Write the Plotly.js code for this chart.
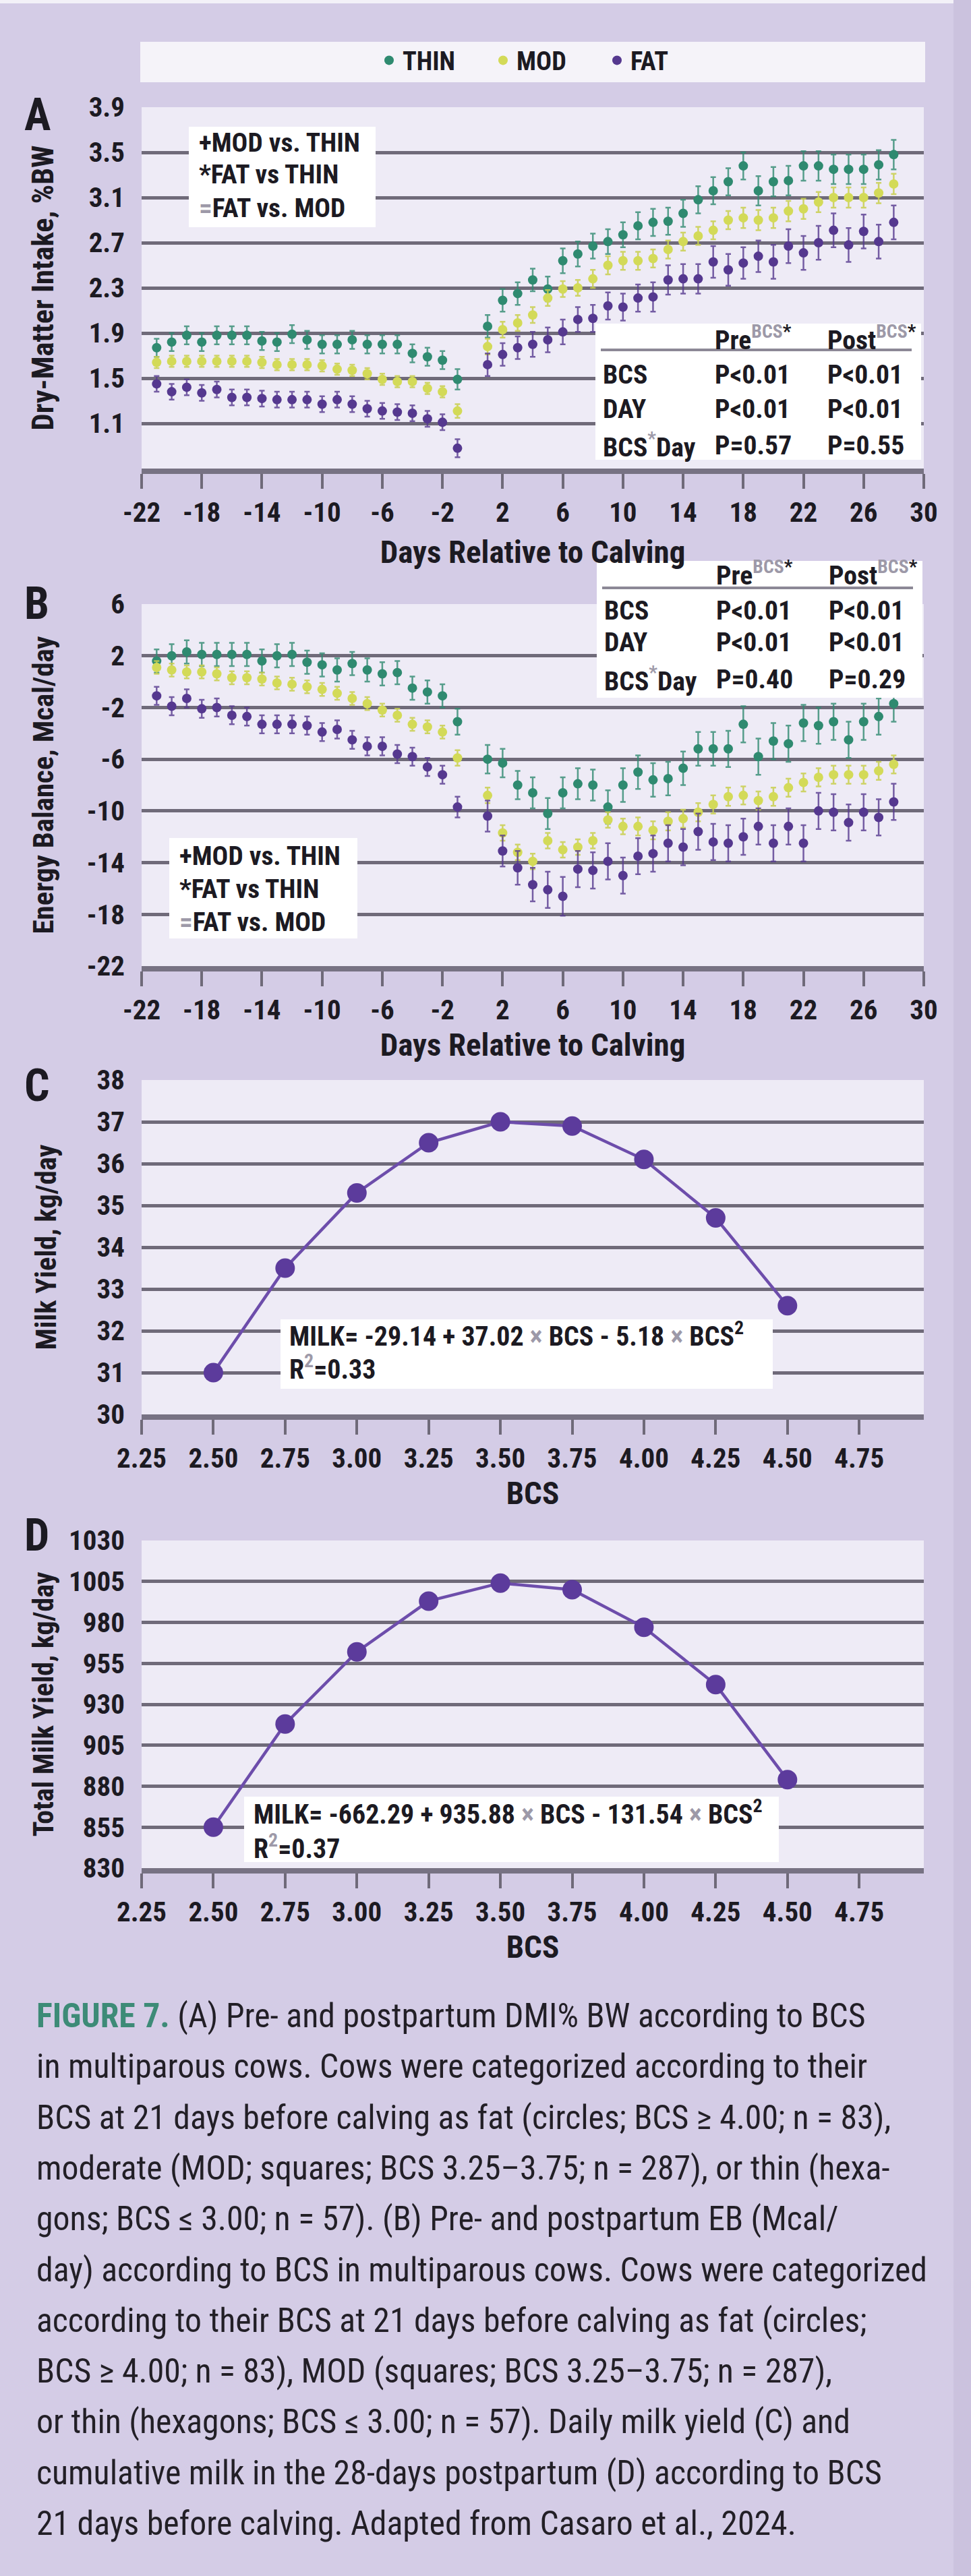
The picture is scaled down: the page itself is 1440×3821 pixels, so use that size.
<!DOCTYPE html>
<html>
<head>
<meta charset="utf-8">
<script src="https://cdn.plot.ly/plotly-3.0.1.min.js"></script>
<style>
  html, body { margin: 0; padding: 0; background: #d4cce6; }
  #fig { width: 1440px; height: 3821px; }
</style>
</head>
<body>
<div id="fig"></div>
<script>
// ---- Days relative to calving (day 0 not sampled) ----
const DAYS = [-21,-20,-19,-18,-17,-16,-15,-14,-13,-12,-11,-10,-9,-8,-7,-6,-5,-4,-3,-2,-1,
              1,2,3,4,5,6,7,8,9,10,11,12,13,14,15,16,17,18,19,20,21,22,23,24,25,26,27,28];

// ---- (A) Dry-matter intake, %BW ----
const DMI_THIN = [1.77,1.82,1.88,1.82,1.88,1.88,1.88,1.83,1.82,1.89,1.84,1.80,1.80,1.84,1.80,1.80,1.80,1.72,1.69,1.66,1.49,
                  1.96,2.19,2.25,2.37,2.29,2.54,2.60,2.67,2.71,2.77,2.85,2.88,2.89,2.96,3.08,3.16,3.24,3.38,3.16,3.24,3.25,3.38,3.38,3.35,3.35,3.35,3.39,3.48];
const DMI_MOD  = [1.64,1.65,1.65,1.65,1.65,1.65,1.65,1.64,1.62,1.62,1.62,1.61,1.58,1.57,1.54,1.49,1.47,1.47,1.41,1.38,1.21,
                  1.78,1.93,1.99,2.06,2.21,2.29,2.30,2.38,2.50,2.54,2.54,2.56,2.64,2.71,2.76,2.81,2.90,2.92,2.90,2.92,2.98,3.00,3.06,3.10,3.10,3.10,3.14,3.22];
const DMI_FAT  = [1.45,1.38,1.42,1.37,1.40,1.33,1.33,1.32,1.31,1.31,1.31,1.27,1.31,1.27,1.23,1.21,1.20,1.19,1.14,1.11,0.88,
                  1.62,1.71,1.77,1.80,1.84,1.91,2.02,2.03,2.14,2.13,2.21,2.22,2.37,2.38,2.38,2.53,2.46,2.52,2.58,2.53,2.67,2.61,2.70,2.81,2.68,2.80,2.71,2.88];
const DMI_SE_THIN = [0.08,0.08,0.08,0.08,0.08,0.08,0.08,0.08,0.08,0.08,0.08,0.08,0.08,0.08,0.08,0.08,0.08,0.08,0.08,0.08,0.09,
                     0.10,0.10,0.10,0.10,0.11,0.11,0.11,0.11,0.11,0.11,0.12,0.12,0.12,0.12,0.12,0.12,0.12,0.12,0.13,0.13,0.13,0.13,0.13,0.13,0.13,0.13,0.13,0.13];
const DMI_SE_MOD  = [0.05,0.05,0.05,0.05,0.05,0.05,0.05,0.05,0.05,0.05,0.05,0.05,0.05,0.05,0.05,0.05,0.05,0.05,0.05,0.05,0.06,
                     0.07,0.07,0.07,0.07,0.07,0.07,0.07,0.08,0.08,0.08,0.08,0.08,0.08,0.08,0.08,0.08,0.08,0.09,0.09,0.09,0.09,0.09,0.09,0.09,0.09,0.09,0.09,0.09];
const DMI_SE_FAT  = [0.07,0.07,0.07,0.07,0.07,0.07,0.07,0.07,0.07,0.07,0.07,0.07,0.07,0.07,0.07,0.07,0.07,0.07,0.07,0.07,0.08,
                     0.10,0.10,0.10,0.11,0.11,0.11,0.11,0.12,0.12,0.12,0.12,0.13,0.13,0.13,0.13,0.14,0.14,0.14,0.14,0.15,0.15,0.15,0.15,0.15,0.15,0.15,0.15,0.15];

// ---- (B) Energy balance, Mcal/day ----
const EB_THIN = [1.6,2.0,2.3,2.1,2.1,2.1,2.1,1.6,2.0,2.1,1.5,1.3,0.9,1.4,0.9,0.6,0.7,-0.5,-0.8,-1.1,-3.1,
                 -6.0,-6.3,-8.0,-8.6,-10.2,-8.6,-7.9,-8.0,-9.7,-8.0,-7.0,-7.6,-7.5,-6.7,-5.2,-5.2,-5.2,-3.3,-5.8,-4.6,-4.8,-3.2,-3.4,-3.1,-4.5,-3.1,-2.7,-1.7];
const EB_MOD  = [1.1,0.9,0.75,0.75,0.6,0.3,0.3,0.2,-0.1,-0.2,-0.4,-0.6,-0.9,-1.3,-1.7,-2.2,-2.6,-3.3,-3.5,-3.9,-5.9,
                 -8.8,-11.7,-13.2,-13.9,-12.3,-13.0,-12.8,-12.3,-10.7,-11.2,-11.2,-11.5,-10.8,-10.6,-10.1,-9.5,-8.9,-8.8,-9.2,-8.9,-8.2,-7.8,-7.4,-7.2,-7.2,-7.2,-6.9,-6.4];
const EB_FAT  = [-1.1,-1.9,-1.3,-2.1,-2.0,-2.6,-2.7,-3.3,-3.3,-3.3,-3.4,-3.9,-3.7,-4.5,-5.0,-5.0,-5.6,-5.8,-6.6,-7.2,-9.7,
                 -10.4,-13.1,-14.4,-15.7,-16.1,-16.6,-14.5,-14.6,-13.9,-15.0,-13.5,-13.3,-12.5,-12.8,-11.6,-12.4,-12.5,-12.0,-11.2,-12.5,-11.2,-12.5,-10.0,-10.1,-10.9,-10.1,-10.5,-9.3];
const EB_SE_THIN = [0.9,0.9,0.9,0.9,0.9,0.9,0.9,0.9,0.9,0.9,0.9,0.9,0.9,0.9,0.9,0.9,0.9,0.9,0.9,0.9,1.0,
                    1.1,1.1,1.1,1.2,1.2,1.2,1.2,1.2,1.3,1.3,1.3,1.3,1.3,1.3,1.3,1.3,1.4,1.4,1.4,1.4,1.4,1.4,1.4,1.4,1.4,1.4,1.4,1.4];
const EB_SE_MOD  = [0.5,0.5,0.5,0.5,0.5,0.5,0.5,0.5,0.5,0.5,0.5,0.5,0.5,0.5,0.5,0.5,0.5,0.5,0.5,0.5,0.6,
                    0.6,0.6,0.6,0.6,0.6,0.6,0.6,0.6,0.6,0.6,0.7,0.7,0.7,0.7,0.7,0.7,0.7,0.7,0.7,0.7,0.7,0.7,0.7,0.7,0.7,0.7,0.7,0.7];
const EB_SE_FAT  = [0.7,0.7,0.7,0.7,0.7,0.7,0.7,0.7,0.7,0.7,0.7,0.7,0.7,0.7,0.7,0.7,0.7,0.7,0.7,0.7,0.8,
                    1.2,1.2,1.3,1.3,1.4,1.5,1.4,1.4,1.4,1.4,1.4,1.4,1.4,1.4,1.4,1.4,1.4,1.4,1.4,1.4,1.4,1.4,1.4,1.4,1.4,1.4,1.4,1.4];

// ---- (C, D) Milk yield by BCS ----
const BCS = [2.50, 2.75, 3.00, 3.25, 3.50, 3.75, 4.00, 4.25, 4.50];
const MILK_DAILY = [31.0, 33.5, 35.3, 36.5, 37.0, 36.9, 36.1, 34.7, 32.6];
const MILK_TOTAL = [855, 918, 962, 993, 1004, 1000, 977, 942, 884];

// ---- Tick values / labels ----
const DAY_TICKS = [-22,-18,-14,-10,-6,-2,2,6,10,14,18,22,26,30];
const DAY_TICK_TEXT = ['-22','-18','-14','-10','-6','-2','2','6','10','14','18','22','26','30'];
const DMI_TICKS = [1.1,1.5,1.9,2.3,2.7,3.1,3.5,3.9];
const DMI_TICK_TEXT = ['1.1','1.5','1.9','2.3','2.7','3.1','3.5','3.9'];
const EB_TICKS = [-22,-18,-14,-10,-6,-2,2,6];
const EB_TICK_TEXT = ['-22','-18','-14','-10','-6','-2','2','6'];
const BCS_TICKS = [2.25,2.50,2.75,3.00,3.25,3.50,3.75,4.00,4.25,4.50,4.75];
const BCS_TICK_TEXT = ['2.25','2.50','2.75','3.00','3.25','3.50','3.75','4.00','4.25','4.50','4.75'];
const DAILY_TICKS = [30,31,32,33,34,35,36,37,38];
const DAILY_TICK_TEXT = ['30','31','32','33','34','35','36','37','38'];
const TOTAL_TICKS = [830,855,880,905,930,955,980,1005,1030];
const TOTAL_TICK_TEXT = ['830','855','880','905','930','955','980','1005','1030'];

const GROUPS = ['THIN', 'MOD', 'FAT'];

const CAPTION = [
  '<b><span style="color:#3d8b77">FIGURE 7.</span></b> (A) Pre- and postpartum DMI% BW according to BCS',
  'in multiparous cows. Cows were categorized according to their',
  'BCS at 21 days before calving as fat (circles; BCS \u2265 4.00; n = 83),',
  'moderate (MOD; squares; BCS 3.25\u20133.75; n = 287), or thin (hexa-',
  'gons; BCS \u2264 3.00; n = 57). (B) Pre- and postpartum EB (Mcal/',
  'day) according to BCS in multiparous cows. Cows were categorized',
  'according to their BCS at 21 days before calving as fat (circles;',
  'BCS \u2265 4.00; n = 83), MOD (squares; BCS 3.25\u20133.75; n = 287),',
  'or thin (hexagons; BCS \u2264 3.00; n = 57). Daily milk yield (C) and',
  'cumulative milk in the 28-days postpartum (D) according to BCS',
  '21 days before calving. Adapted from Casaro et al., 2024.'
];

// ---- Styling ----
const W = 1440, H = 3821;
const PX = x => x / W;
const PY = y => 1 - y / H;

const COND = '"Roboto Condensed", "Liberation Sans Narrow", "Liberation Sans", Arial, sans-serif';
const INK = '#1c1a22';
const GRID = '#6f6a79';
const AXIS = '#777283';
const PAGE = '#d4cce6';
const PLOTBG = '#eeebf6';
const COLORS = { THIN: '#2f8a70', MOD: '#d3da58', FAT: '#55388f' };
const ERRCOL = { THIN: 'rgba(47,138,112,0.8)', MOD: 'rgba(200,207,78,0.85)', FAT: 'rgba(85,56,143,0.8)' };
const LINE_PURPLE = '#6d4dab';
const DOT_PURPLE = '#5c3b9c';
const GRAY_MARK = '#9d99a8';

// text measuring, used to size labels to their column widths
const measureCtx = document.createElement('canvas').getContext('2d');
function textWidth(str, family, size, bold) {
  measureCtx.font = (bold ? 'bold ' : '') + size + 'px ' + family;
  return measureCtx.measureText(str.replace(/<[^>]+>/g, '').replace(/&lt;/g, '<')).width;
}
function fitSize(str, family, bold, target, lo, hi) {
  const s = 100 * target / textWidth(str, family, 100, bold);
  return Math.max(lo, Math.min(hi, Math.round(s * 10) / 10));
}

const tickSize = fitSize('2.25', COND, true, 74, 30, 50);
const tickFont = { family: COND, size: tickSize, color: INK, weight: 'bold' };
const xTitleSize = fitSize('Days Relative to Calving', COND, true, 453, 30, 50);
const xTitleFont = { family: COND, size: xTitleSize, color: INK, weight: 'bold' };

const XL = PX(210), XR = PX(1370);
const YLABEL_RIGHT = 186;   // right edge of y tick labels (px)
const DOM = {
  A: [PY(695), PY(159)],
  B: [PY(1433), PY(896)],
  C: [PY(2098), PY(1602)],
  D: [PY(2771), PY(2285)]
};

function xAxis(anchor, range, tickvals, ticktext, title, standoff) {
  return {
    domain: [XL, XR], anchor: anchor, range: range,
    tickmode: 'array', tickvals: tickvals, ticktext: ticktext,
    ticks: 'outside', ticklen: 22, tickwidth: 4, tickcolor: GRID,
    showline: true, linecolor: AXIS, linewidth: 8,
    showgrid: false, zeroline: false, tickfont: tickFont,
    ticklabelstandoff: 0,
    title: { text: title, font: xTitleFont, standoff: standoff },
    fixedrange: true
  };
}
// y title sized to its printed length and placed so its centre sits at `center` px
function yAxis(anchor, domain, range, tickvals, ticktext, title, titleLen, center) {
  const size = fitSize(title, COND, true, titleLen, 28, 50);
  const widest = Math.max.apply(null, ticktext.map(t => textWidth(t, COND, tickSize, true)));
  const standoff = Math.max(0, Math.round(YLABEL_RIGHT - widest - center - 0.58 * size));
  return {
    domain: domain, anchor: anchor, range: range,
    tickmode: 'array', tickvals: tickvals, ticktext: ticktext,
    ticks: '', showline: false, zeroline: false,
    showgrid: true, gridcolor: GRID, gridwidth: 5,
    tickfont: tickFont, ticklabelstandoff: 210 - YLABEL_RIGHT,
    title: { text: title, font: { family: COND, size: size, color: INK, weight: 'bold' }, standoff: standoff },
    fixedrange: true
  };
}

// ---- Traces ----
const traces = [];
const dmiSeries = { THIN: [DMI_THIN, DMI_SE_THIN], MOD: [DMI_MOD, DMI_SE_MOD], FAT: [DMI_FAT, DMI_SE_FAT] };
const ebSeries  = { THIN: [EB_THIN, EB_SE_THIN],  MOD: [EB_MOD, EB_SE_MOD],  FAT: [EB_FAT, EB_SE_FAT] };

function groupTrace(g, ys, se, xa, ya, inLegend) {
  return {
    type: 'scatter', mode: 'markers', name: g, legendgroup: g, showlegend: inLegend,
    x: DAYS, y: ys, xaxis: xa, yaxis: ya,
    marker: { color: COLORS[g], size: 14, symbol: 'circle' },
    error_y: { type: 'data', array: se, visible: true, color: ERRCOL[g], thickness: 2.5, width: 4 },
    hoverinfo: 'x+y+name'
  };
}
GROUPS.forEach(g => traces.push(groupTrace(g, dmiSeries[g][0], dmiSeries[g][1], 'x', 'y', true)));
GROUPS.forEach(g => traces.push(groupTrace(g, ebSeries[g][0], ebSeries[g][1], 'x2', 'y2', false)));

traces.push({
  type: 'scatter', mode: 'lines+markers', name: 'Milk yield', showlegend: false,
  x: BCS, y: MILK_DAILY, xaxis: 'x3', yaxis: 'y3',
  line: { color: LINE_PURPLE, width: 4.5 },
  marker: { color: DOT_PURPLE, size: 29 }
});
traces.push({
  type: 'scatter', mode: 'lines+markers', name: 'Total milk yield', showlegend: false,
  x: BCS, y: MILK_TOTAL, xaxis: 'x4', yaxis: 'y4',
  line: { color: LINE_PURPLE, width: 4.5 },
  marker: { color: DOT_PURPLE, size: 29 }
});

// ---- Boxes, rules and labels ----
const shapes = [];
const annotations = [];

function rect(x0, y0, x1, y1, fill, layer) {
  shapes.push({ type: 'rect', xref: 'paper', yref: 'paper', x0: PX(x0), x1: PX(x1), y0: PY(y1), y1: PY(y0),
                fillcolor: fill, line: { width: 0 }, layer: layer || 'above' });
}
function hline(x0, x1, y, color, width) {
  shapes.push({ type: 'line', xref: 'paper', yref: 'paper', x0: PX(x0), x1: PX(x1), y0: PY(y), y1: PY(y),
                line: { color: color, width: width }, layer: 'above' });
}
function text(t, x, y, font, xanchor) {
  annotations.push({ xref: 'paper', yref: 'paper', x: PX(x), y: PY(y), text: t, showarrow: false,
                     xanchor: xanchor || 'left', yanchor: 'middle', font: font });
}

// page trims
rect(0, 0, 1440, 5, '#f3f1f8', 'below');
rect(1414, 0, 1440, 3821, '#cbc2de', 'below');
// legend band
rect(208, 62, 1372, 122, '#f5f3f9', 'below');

// panel letters
const letterFont = { family: COND, size: 66, color: INK, weight: 'bold' };
text('A', 34, 170, letterFont);
text('B', 34, 895, letterFont);
text('C', 34, 1610, letterFont);
text('D', 34, 2277, letterFont);

// contrast keys
const gray = s => '<span style="color:' + GRAY_MARK + '">' + s + '</span>';
const keyFont = { family: COND, size: fitSize('+MOD vs. THIN', COND, true, 240, 26, 44), color: INK, weight: 'bold' };
rect(280, 188, 557, 337, '#ffffff');
text('+MOD vs. THIN', 293, 211, keyFont);
text('*FAT vs THIN', 293, 258, keyFont);
text(gray('=') + 'FAT vs. MOD', 293, 308, keyFont);

rect(251, 1243, 530, 1392, '#ffffff');
text('+MOD vs. THIN', 264, 1269, keyFont);
text('*FAT vs THIN', 264, 1318, keyFont);
text(gray('=') + 'FAT vs. MOD', 264, 1367, keyFont);

// P-value tables
const tblFont = { family: COND, size: fitSize('P<0.01', COND, true, 112, 26, 44), color: INK, weight: 'bold' };
const hdrPre = 'Pre<sup>' + gray('BCS') + '*</sup>';
const hdrPost = 'Post<sup>' + gray('BCS') + '*</sup>';
const bcsDay = 'BCS<sup>' + gray('*') + '</sup>Day';
function pTable(x0, y0, x1, y1, rows, rowY, hdrY, ruleY, cols) {
  rect(x0, y0, x1, y1, '#ffffff');
  hline(x0 + 8, x1 - 14, ruleY, '#8c8896', 4);
  text(hdrPre, cols[1], hdrY, tblFont);
  text(hdrPost, cols[2], hdrY, tblFont);
  rows.forEach((r, i) => {
    text(r[0], cols[0], rowY[i], tblFont);
    text(r[1], cols[1], rowY[i], tblFont);
    text(r[2], cols[2], rowY[i], tblFont);
  });
}
const P_A = [['BCS', 'P&lt;0.01', 'P&lt;0.01'], ['DAY', 'P&lt;0.01', 'P&lt;0.01'], [bcsDay, 'P=0.57', 'P=0.55']];
const P_B = [['BCS', 'P&lt;0.01', 'P&lt;0.01'], ['DAY', 'P&lt;0.01', 'P&lt;0.01'], [bcsDay, 'P=0.40', 'P=0.29']];
pTable(883, 480, 1366, 682, P_A, [555, 607, 660], 502, 519, [892, 1058, 1225]);
pTable(885, 832, 1368, 1035, P_B, [905, 953, 1008], 850, 872, [894, 1060, 1227]);

// regression equations
const times = gray('\u00d7');
const EQ_C = 'MILK= -29.14 + 37.02 ' + times + ' BCS - 5.18 ' + times + ' BCS<sup>2</sup>';
const EQ_D = 'MILK= -662.29 + 935.88 ' + times + ' BCS - 131.54 ' + times + ' BCS<sup>2</sup>';
const eqFont = { family: COND, size: fitSize(EQ_C, COND, true, 680, 26, 46), color: INK, weight: 'bold' };
rect(416, 1957, 1146, 2060, '#ffffff');
text(EQ_C, 427, 1979, eqFont);
text('R<sup>' + gray('2') + '</sup>=0.33', 427, 2028, eqFont);
rect(362, 2665, 1155, 2762, '#ffffff');
text(EQ_D, 374, 2688, eqFont);
text('R<sup>' + gray('2') + '</sup>=0.37', 374, 2739, eqFont);

// caption: size chosen so the longest line fits the text column
let capSize = 60;
CAPTION.forEach(l => { capSize = Math.min(capSize, fitSize(l, COND, false, 1320, 30, 60)); });
const capFont = { family: COND, size: capSize, color: '#221f26' };
CAPTION.forEach((line, i) => text(line, 52, 2990 + i * 75.3, capFont));

const layout = {
  width: W, height: H,
  margin: { l: 0, r: 0, t: 0, b: 0, pad: 0 },
  paper_bgcolor: PAGE, plot_bgcolor: PLOTBG,
  showlegend: true,
  legend: {
    orientation: 'h', x: PX(557), xanchor: 'left', y: PY(58), yanchor: 'top',
    entrywidth: 124, entrywidthmode: 'pixels',
    bgcolor: 'rgba(0,0,0,0)', itemsizing: 'trace',
    font: { family: COND, size: fitSize('THIN', COND, true, 78, 26, 48), color: INK, weight: 'bold' }
  },
  xaxis:  xAxis('y',  [-22, 30], DAY_TICKS, DAY_TICK_TEXT, 'Days Relative to Calving', 22),
  yaxis:  yAxis('x',  DOM.A, [0.7, 3.9], DMI_TICKS, DMI_TICK_TEXT, 'Dry-Matter Intake, %BW', 423, 69),
  xaxis2: xAxis('y2', [-22, 30], DAY_TICKS, DAY_TICK_TEXT, 'Days Relative to Calving', 10),
  yaxis2: yAxis('x2', DOM.B, [-22, 6], EB_TICKS, EB_TICK_TEXT, 'Energy Balance, Mcal/day', 442, 70),
  xaxis3: xAxis('y3', [2.25, 4.975], BCS_TICKS, BCS_TICK_TEXT, 'BCS', 8),
  yaxis3: yAxis('x3', DOM.C, [30, 38], DAILY_TICKS, DAILY_TICK_TEXT, 'Milk Yield, kg/day', 305, 74),
  xaxis4: xAxis('y4', [2.25, 4.975], BCS_TICKS, BCS_TICK_TEXT, 'BCS', 8),
  yaxis4: yAxis('x4', DOM.D, [830, 1030], TOTAL_TICKS, TOTAL_TICK_TEXT, 'Total Milk Yield, kg/day', 393, 70),
  shapes: shapes,
  annotations: annotations
};

Plotly.newPlot('fig', traces, layout, { displayModeBar: false, staticPlot: true });
</script>
</body>
</html>
